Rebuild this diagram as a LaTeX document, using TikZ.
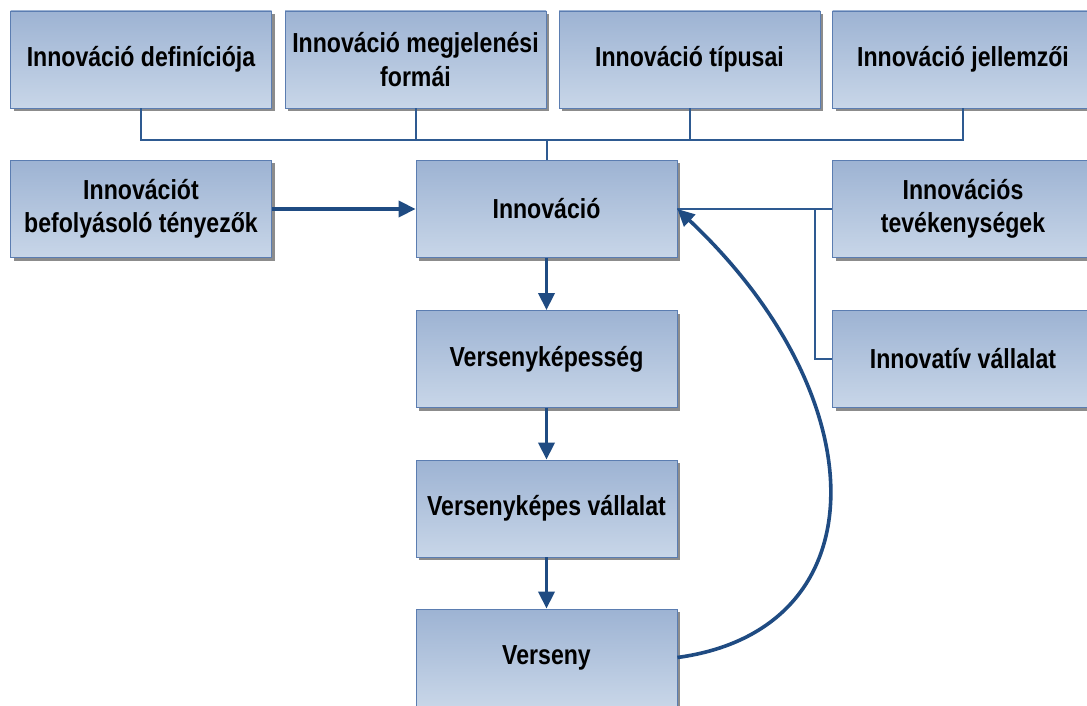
\documentclass[tikz,border=0pt]{standalone}
\usepackage{fontspec}
\setmainfont{Liberation Sans}[FakeStretch=0.84]
\usetikzlibrary{arrows.meta,shadows}
\definecolor{boxtop}{HTML}{9DB3D3}
\definecolor{boxbot}{HTML}{C8D6E8}
\definecolor{boxline}{HTML}{5B7DB1}
\definecolor{linkblue}{HTML}{2E5A91}
\definecolor{arrowblue}{HTML}{1F4B82}
\begin{document}
\begin{tikzpicture}[x=1pt,y=-1pt,
    box/.style={draw=boxline,line width=0.8pt,top color=boxtop,bottom color=boxbot,
      minimum width=261pt,minimum height=97pt,align=center,inner sep=2pt,
      font=\fontsize{27.5}{33.5}\selectfont\bfseries,
      drop shadow={shadow xshift=3pt,shadow yshift=-3pt,opacity=1,fill=black!45}},
    link/.style={draw=linkblue,line width=2pt},
    arrow/.style={draw=arrowblue,line width=3.6pt,-{Triangle[length=17pt,width=16pt]}}]
    \clip (0,0) rectangle (1087,706);
    \fill[white] (0,0) rectangle (1087,706);
    % top row
    \node[box] (def) at (141,59.5) {Innováció definíciója};
    \node[box] (form) at (415.5,59.5) {Innováció megjelenési\\formái};
    \node[box] (tip) at (689.5,59.5) {Innováció típusai};
    \node[box] (jell) at (963,59.5) {Innováció jellemzői};
    % middle
    \node[box] (befoly) at (141,209) {Innovációt\\befolyásoló tényezők};
    \node[box] (innov) at (546.5,209) {Innováció};
    \node[box] (tev) at (963,209) {Innovációs\\tevékenységek};
    \node[box] (kep) at (546.5,359) {Versenyképesség};
    \node[box] (ivall) at (963,359) {Innovatív vállalat};
    \node[box] (kvall) at (546.5,508.5) {Versenyképes vállalat};
    \node[box] (verseny) at (546.5,657.5) {Verseny};
    \coordinate (bus) at (546.5,140);
    \coordinate (br) at (815,209);
    \draw[link] (def.south) |- (bus) -- (innov.north);
    \draw[link] (jell.south) |- (bus);
    \draw[link] (form.south) -- (form.south |- bus);
    \draw[link] (tip.south) -- (tip.south |- bus);
    \draw[link] (innov.east) -- (tev.west);
    \draw[link] (br) |- (ivall.west);
    \draw[arrow] (befoly) -- (innov);
    \draw[arrow] (innov) -- (kep);
    \draw[arrow] (kep) -- (kvall);
    \draw[arrow] (kvall) -- (verseny);
    \draw[arrow] (verseny.east) .. controls (880,630) and (880,400) .. (innov.east);
\end{tikzpicture}
\end{document}
